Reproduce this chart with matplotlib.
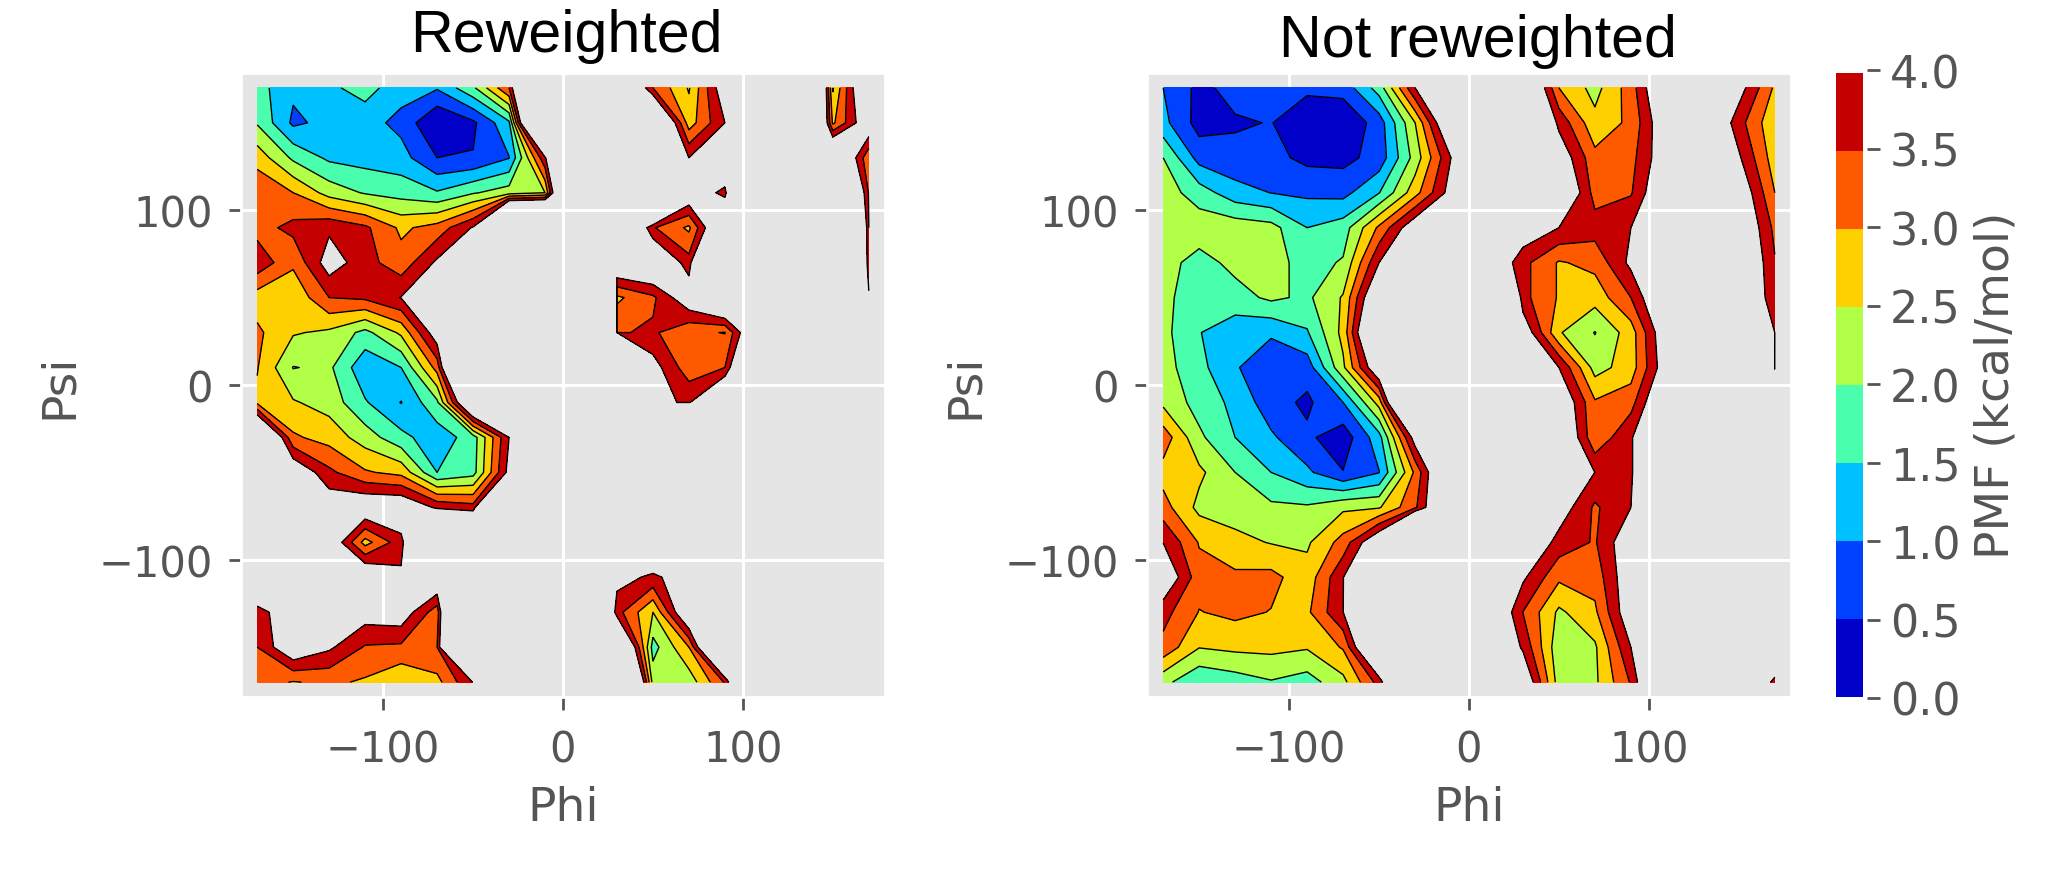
import numpy as np
import matplotlib
matplotlib.use('Agg')
import matplotlib.pyplot as plt

plt.style.use('ggplot')

# bin centres in degrees, same for phi and psi
phi = [-170, -150, -130, -110, -90, -70, -50, -30, -10, 10, 30, 50, 70, 90, 110, 130, 150, 170]
psi = [170, 150, 130, 110, 90, 70, 50, 30, 10, -10, -30, -50, -70, -90, -110, -130, -150, -170]

pmf_levels = [0, 0.5, 1, 1.5, 2, 2.5, 3, 3.5, 4]

# pmf, rows go from psi=170 down to psi=-170
# anything above 4 is not drawn, 1000 = bin that was never visited
reweighted = [
    [1.7, 1.1, 1.4, 1.7, 1.2, 1.05, 1.9, 3.5, 9, 9, 6, 3.5, 2.45, 4.5, 9, 11, 2.45, 5.2],
    [1.95, 0.9, 1.15, 1.2, 0.85, 0, 0.4, 1.4, 9.5, 9, 9, 6, 2.75, 4.0, 9, 9.8, 2.9, 4.6],
    [2.8, 1.9, 1.4, 1.3, 1.2, 0.5, 0.53, 0.98, 3.9, 9, 9, 9, 4.0, 5, 9, 9, 5.6, 3.1],
    [3.4, 3.0, 2.3, 1.95, 1.8, 1.55, 1.95, 2.25, 2.5, 9.3, 9, 9, 4.6, 3.8, 9.7, 9, 7.7, 3.45],
    [3.3, 3.65, 3.9, 3.6, 2.9, 3.2, 4.05, 10, 10, 9, 6.2, 3.55, 2.9, 5.3, 9, 9, 12, 3.5],
    [3.85, 3.1, 4.3, 3.7, 3.19, 4.1, 9, 9, 9, 9, 4.85, 5, 3.7, 9, 9, 9, 12, 3.6],
    [2.75, 2.6, 3.5, 3.6, 4.02, 9, 9, 9, 9, 1000, 2.9, 3.4, 4.5, 5.5, 9, 9, 9, 4.1],
    [3.1, 2.55, 2.4, 1.85, 2.6, 4.4, 9, 9, 9, 1000, 3.45, 3.58, 3.1, 2.98, 5.35, 9, 9, 9],
    [3.03, 1.98, 2.1, 1.13, 1.5, 3.2, 9, 9, 9, 9, 1000, 4.25, 3.2, 3.5, 7, 9, 9, 9],
    [2.9, 2.55, 2.3, 1.55, 0.98, 1.9, 5.6, 9, 9, 9, 9, 4.1, 3.95, 5.5, 9, 9, 9, 9],
    [6.05, 3.08, 2.8, 2.26, 1.65, 1.2, 1.75, 4.0, 9, 9, 9, 1000, 1000, 9, 9, 9, 9, 9],
    [9, 4.6, 3.62, 3.06, 2.85, 1.5, 1.8, 4.2, 9, 9, 9, 9, 9, 9, 9, 9, 9, 9],
    [9, 9, 4.43, 4.6, 4.6, 3.9, 3.7, 9, 9, 9, 9, 9, 9, 9, 9, 9, 9, 9],
    [9, 9, 4.65, 2.8, 3.8, 7, 6.7, 9, 9, 9, 9, 4.8, 9, 9, 9, 9, 9, 9],
    [5.9, 9, 9, 4.8, 4.1, 4.75, 9, 9, 9, 9, 4.2, 3.9, 4.3, 9, 9, 9, 9, 9],
    [3.6, 4.8, 9, 4.3, 4.4, 3.2, 11, 9, 9, 8.7, 3.7, 2.5, 4.9, 9, 9, 9, 9, 9],
    [3.5, 4.6, 4.1, 3.45, 3.4, 3.5, 10.6, 9, 9, 9, 6.2, 1.8, 3.0, 7, 9, 9, 9, 9],
    [3.2, 2.97, 3.1, 2.93, 2.55, 2.84, 4.02, 9, 9, 9, 9, 2.3, 2.2, 3.55, 7.6, 9, 9, 9],
]

not_reweighted = [
    [1.0, 0.36, 0.68, 0.75, 0.6, 0.7, 1.72, 3.98, 9, 9, 5.5, 3.0, 2.32, 3.25, 5, 9, 4.26, 2.91],
    [1.15, 0.3, 0.44, 0.52, 0.15, 0.05, 0.74, 2.49, 5, 9, 6, 3.85, 2.65, 3.12, 4.6, 5.06, 3.7, 2.6],
    [2.0, 0.81, 0.65, 0.65, 0.37, 0.35, 0.69, 2.2, 4.0, 9, 9, 4.46, 3.15, 3.33, 4.49, 9, 4.08, 2.73],
    [2.25, 1.75, 1.2, 0.99, 0.9, 0.84, 1.48, 2.8, 4.25, 9, 9, 5, 3.3, 3.45, 4.8, 9, 4.56, 3.0],
    [2.3, 2.3, 2.3, 2.18, 1.5, 1.75, 3.1, 4.5, 9, 9, 4.45, 4.0, 3.72, 4.0, 9, 9, 4.8, 3.37],
    [2.2, 1.8, 2.15, 2.2, 1.8, 2.05, 4.0, 9, 9, 4.85, 3.65, 2.95, 3.15, 4.14, 9, 9, 4.98, 3.54],
    [2.2, 1.55, 1.8, 2.1, 1.9, 2.55, 5, 9, 9, 9, 3.65, 2.95, 2.7, 3.5, 5, 9, 4.68, 3.75],
    [2.15, 1.52, 1.2, 1.07, 1.45, 2.65, 6, 9, 9, 9, 4.5, 2.55, 1.98, 2.75, 4.6, 9, 9, 3.995],
    [2.2, 1.65, 1.05, 0.65, 0.72, 2.4, 4.7, 9, 9, 9, 9, 4.0, 2.3, 2.74, 4.45, 9, 9, 3.99],
    [2.38, 1.8, 1.37, 0.71, 0.4, 1.0, 2.7, 8, 9, 9, 9, 4.7, 3.06, 3.3, 5, 9, 9, 4.2],
    [3.3, 2.1, 1.5, 1.08, 0.6, 0.2, 1.3, 4.3, 9, 9, 9, 5, 3.1, 3.95, 5, 9, 9, 9],
    [2.8, 2.61, 2.0, 1.5, 1.1, 0.52, 0.98, 3.1, 5.5, 9, 9, 9, 3.98, 3.95, 5, 9, 9, 9],
    [3.2, 2.36, 2.25, 2.1, 2.07, 2.4, 2.45, 3.4, 5.4, 9, 9, 4.35, 3.42, 4.0, 9, 9, 9, 9],
    [3.99, 2.96, 2.65, 2.47, 2.42, 3.2, 4.7, 9, 9, 9, 4.75, 3.8, 3.45, 4.5, 9, 9, 9, 9],
    [4.6, 3.2, 3.1, 3.15, 2.7, 3.95, 9, 9, 9, 9, 4.1, 3.1, 3.2, 4.5, 9, 9, 9, 9],
    [3.68, 2.98, 3.12, 2.98, 2.9, 3.98, 9, 9, 9, 5.1, 3.49, 2.4, 2.9, 4.5, 9, 9, 9, 9],
    [3.35, 2.52, 2.62, 2.64, 2.55, 3.05, 5.8, 9, 9, 5.3, 3.9, 2.15, 2.42, 4.0, 9, 9, 9, 4.6],
    [2.15, 1.57, 1.75, 1.96, 1.77, 2.35, 3.7, 6.7, 9, 9, 4.7, 2.25, 2.4, 3.55, 6, 9, 4.8, 3.9],
]

W, H = 2048, 870
fig = plt.figure(figsize=(10.24, 4.35), dpi=200)


def pixel_axes(x0, x1, y0, y1):
    return fig.add_axes([x0 / W, 1 - y1 / H, (x1 - x0) / W, (y1 - y0) / H])


def draw_panel(ax, pmf, title, title_x, pad):
    cf = ax.contourf(phi, psi, pmf, levels=pmf_levels, cmap='jet', vmin=0, vmax=4)
    ax.contour(phi, psi, pmf, levels=pmf_levels, colors='k', linewidths=0.5)
    ax.set_xlim(-179, 179)
    ax.set_ylim(-178.5, 178.5)
    ax.set_xticks([-100, 0, 100])
    ax.set_yticks([-100, 0, 100])
    ax.grid(True, color='white', linewidth=1.1)
    ax.tick_params(axis='x', labelsize=15, length=4.5, width=1, pad=7)
    ax.tick_params(axis='y', labelsize=15, length=4.5, width=1, pad=5.5)
    ax.set_xlabel('Phi', fontsize=17, labelpad=5)
    ax.set_ylabel('Psi', fontsize=17, labelpad=6)
    ax.set_title(title, fontsize=21.3, color='black', family='Liberation Sans', x=title_x, pad=pad)
    return cf


ax1 = pixel_axes(241, 885, 74, 698)
ax2 = pixel_axes(1147, 1791, 74, 698)
cf = draw_panel(ax1, reweighted, 'Reweighted', 0.505, 7.9)
draw_panel(ax2, not_reweighted, 'Not reweighted', 0.514, 6.1)

cax = pixel_axes(1836, 1863, 74, 698)
cbar = fig.colorbar(cf, cax=cax)
cbar.set_ticks([])
cbar.outline.set_visible(False)

# ticks sit a little off the bar in the reference, so they get their own axes
tick_ax = pixel_axes(1836, 1867, 71, 699)
tick_ax.patch.set_visible(False)
tick_ax.grid(False)
tick_ax.set_xticks([])
for side in tick_ax.spines.values():
    side.set_visible(False)
tick_ax.set_ylim(0, 4)
tick_ax.yaxis.tick_right()
tick_ax.yaxis.set_label_position('right')
tick_ax.set_yticks(pmf_levels)
tick_ax.set_yticklabels(['%.1f' % v for v in pmf_levels])
tick_ax.tick_params(axis='y', labelsize=16, length=4.5, width=1, color='#555555', labelcolor='#555555', pad=3.8)
tick_ax.set_ylabel('PMF (kcal/mol)', fontsize=17, color='#555555', labelpad=4.5)

fig.savefig('out.png', dpi=200)
